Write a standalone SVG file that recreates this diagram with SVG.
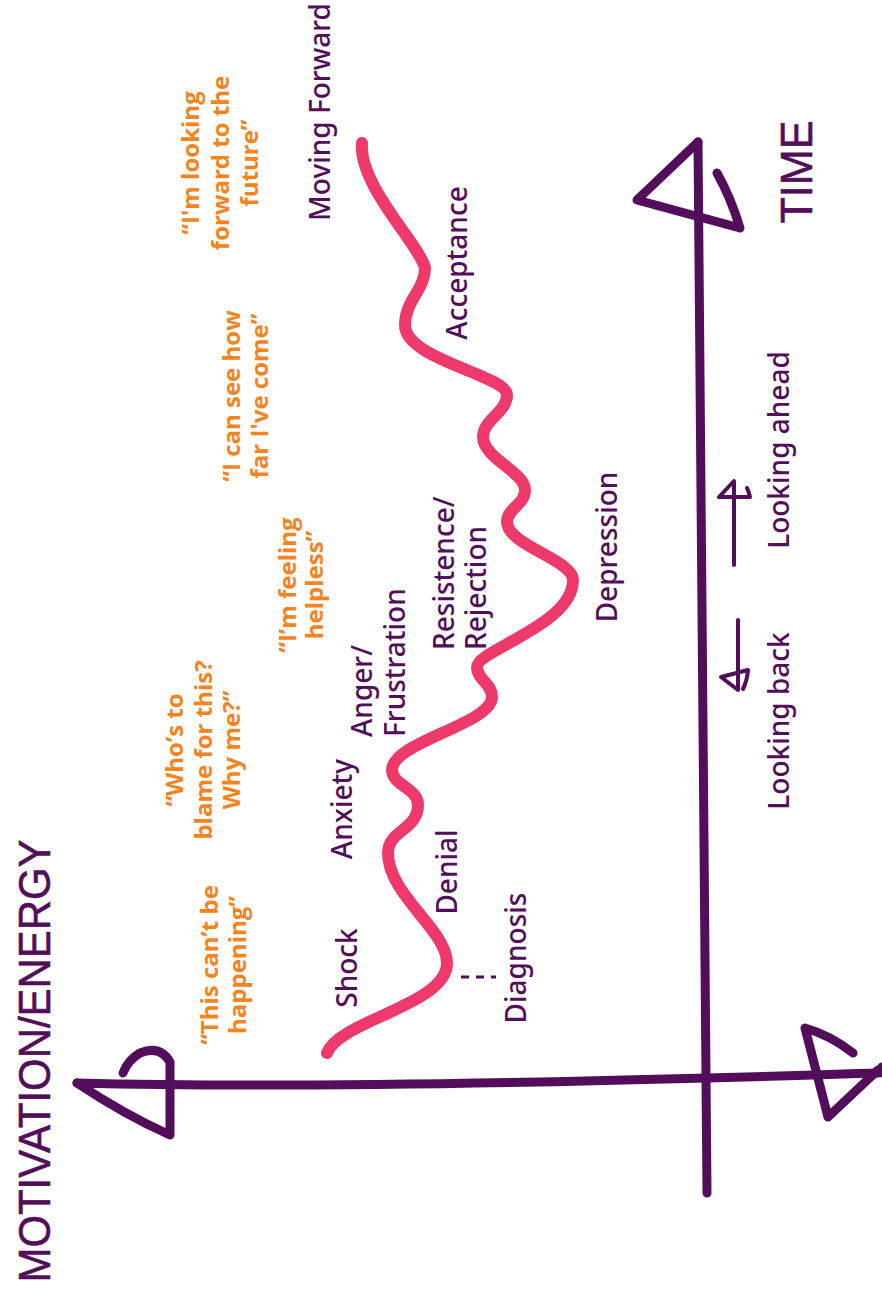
<svg xmlns="http://www.w3.org/2000/svg" width="882" height="1293" viewBox="0 0 882 1293">
<style>
.axis{fill:none;stroke:#520E5A;stroke-width:9;stroke-linecap:round;stroke-linejoin:round}
.thin{fill:none;stroke:#520E5A;stroke-width:4;stroke-linecap:round;stroke-linejoin:round}
.wave{fill:none;stroke:#EE3A6B;stroke-width:12;stroke-linecap:round;stroke-linejoin:round}
.lbl{font-family:"Noto Sans","Open Sans",sans-serif;font-size:28px;font-weight:500;fill:#520E5A}
.quote{font-family:"Open Sans","Noto Sans",sans-serif;font-size:24px;font-weight:700;fill:#F5841F}
.title{font-family:"Liberation Sans","DejaVu Sans",sans-serif;font-size:44px;fill:#520E5A;stroke:#520E5A;stroke-width:0.6;stroke-linejoin:round}
</style>
<rect width="882" height="1293" fill="#ffffff"/>
<g id="connectors">
  <path class="axis" d="M698 142 L707 1193"/>
  <path class="axis" d="M698 142 L637 200 L740 228 Q731 198 717 173"/>
  <path class="axis" d="M77 1083 Q300 1089 707 1078 T882 1067"/>
  <path class="axis" d="M77 1083 Q125 1115 170 1135 L170 1062 Q160 1045 140 1053 Q128 1060 123 1073"/>
  <path class="axis" d="M853 1053 Q830 1035 805 1028 L828 1117 L878 1070"/>
  <path class="thin" d="M734 565 L734 481 L719 497 L750 497 Q749 492 747 488"/>
  <path class="thin" d="M738 620 L738 690 L721 677 L748 670 Q747 681 743 689"/>
  <path d="M461 977 L496 977" fill="none" stroke="#520E5A" stroke-width="3" stroke-dasharray="8 7"/>
</g>
<g id="wave">
  <path class="wave" d="M327 1053 C340 1020 447 1005 447 963 C447 930 388 895 388 853 C388 830 418 830 418 805 C418 788 392 785 392 770 C392 742 492 724 492 697 C492 683 477 680 477 667 C477 650 573 625 573 580 C573 560 507 545 507 522 C507 508 525 505 525 490 C525 472 483 458 483 437 C483 420 507 412 507 395 C507 375 405 360 405 325 C405 300 425 290 425 268 C420 245 358 185 362 143"/>
</g>
<g id="title-motivation"><text class="title" transform="translate(50,1061) rotate(-90)" text-anchor="middle" textLength="443" lengthAdjust="spacingAndGlyphs">MOTIVATION/ENERGY</text></g>
<g id="title-time"><text class="title" transform="translate(812,172) rotate(-90)" text-anchor="middle" textLength="103" lengthAdjust="spacingAndGlyphs">TIME</text></g>
<g id="shock"><text class="lbl" transform="translate(357,968) rotate(-90)" text-anchor="middle">Shock</text></g>
<g id="denial"><text class="lbl" transform="translate(457,872) rotate(-90)" text-anchor="middle">Denial</text></g>
<g id="diagnosis"><text class="lbl" transform="translate(526,958) rotate(-90)" text-anchor="middle">Diagnosis</text></g>
<g id="anxiety"><text class="lbl" transform="translate(352,809) rotate(-90)" text-anchor="middle">Anxiety</text></g>
<g id="anger"><text class="lbl" transform="translate(372,737) rotate(-90)"><tspan x="0">Anger/</tspan><tspan x="0" dy="33">Frustration</tspan></text></g>
<g id="resistence"><text class="lbl" transform="translate(454,650) rotate(-90)"><tspan x="0">Resistence/</tspan><tspan x="0" dy="32">Rejection</tspan></text></g>
<g id="depression"><text class="lbl" transform="translate(617,547) rotate(-90)" text-anchor="middle">Depression</text></g>
<g id="acceptance"><text class="lbl" transform="translate(467,263) rotate(-90)" text-anchor="middle">Acceptance</text></g>
<g id="moving-forward"><text class="lbl" transform="translate(330,112) rotate(-90)" text-anchor="middle">Moving Forward</text></g>
<g id="looking-back"><text class="lbl" transform="translate(789,721) rotate(-90)" text-anchor="middle">Looking back</text></g>
<g id="looking-ahead"><text class="lbl" transform="translate(789,450) rotate(-90)" text-anchor="middle">Looking ahead</text></g>
<g id="q-happening"><text class="quote" transform="translate(218,965) rotate(-90)" text-anchor="middle"><tspan x="0">“This can’t be</tspan><tspan x="0" dy="28">happening”</tspan></text></g>
<g id="q-blame"><text class="quote" transform="translate(183,750) rotate(-90)" text-anchor="middle"><tspan x="0">“Who’s to</tspan><tspan x="0" dy="29">blame for this?</tspan><tspan x="0" dy="28">Why me?”</tspan></text></g>
<g id="q-helpless"><text class="quote" transform="translate(296,585) rotate(-90)" text-anchor="middle"><tspan x="0">“I’m feeling</tspan><tspan x="0" dy="27">helpless”</tspan></text></g>
<g id="q-far"><text class="quote" transform="translate(240,396) rotate(-90)" text-anchor="middle"><tspan x="0">“I can see how</tspan><tspan x="0" dy="28">far I've come”</tspan></text></g>
<g id="q-future"><text class="quote" transform="translate(199,163) rotate(-90)" text-anchor="middle"><tspan x="0">“I'm looking</tspan><tspan x="0" dy="30">forward to the</tspan><tspan x="0" dy="29">future”</tspan></text></g>
</svg>
